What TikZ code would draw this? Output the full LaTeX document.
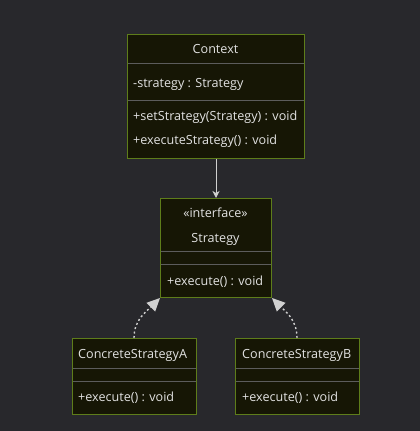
\documentclass[tikz,border=0pt]{standalone}
\usepackage{fontspec}
\setmainfont{Open Sans}
\usetikzlibrary{arrows.meta}
\definecolor{bg}{HTML}{28282C}
\definecolor{boxfill}{HTML}{161605}
\definecolor{boxline}{HTML}{5E7D1A}
\definecolor{divline}{HTML}{5C5C5C}
\definecolor{txt}{HTML}{E2E2E2}
\definecolor{arr}{HTML}{D0D0D0}
\tikzset{
  box/.style={draw=boxline, fill=boxfill, line width=1pt, anchor=north west, inner sep=0pt},
  divider/.style={draw=divline, line width=1pt},
  lbl/.style={text=txt, font=\fontsize{12.6}{14}\selectfont, inner sep=0pt},
  llbl/.style={lbl, anchor=west},
  conn/.style={draw=arr, line width=1pt},
  realize/.style={draw=arr, line width=1.4pt, dash pattern=on 2pt off 2.5pt, -{Triangle[length=13pt,width=12pt,fill=arr]}}
}
\begin{document}
\begin{tikzpicture}[x=1pt,y=1pt]
\fill[bg] (0,0) rectangle (420,431);
\useasboundingbox (0,0) rectangle (420,431);
% Context
\node[box, minimum width=177pt, minimum height=124pt] (ctx) at (127,397) {};
\draw[divider] (127.5,367) -- (303.5,367);
\draw[divider] (127.5,330) -- (303.5,330);
\node[lbl] (ctxT) at (215.5,382) {Context};
\node[llbl] (ctxA) at (133,347) {-strategy : Strategy};
\node[llbl] (ctxM1) at (133,314) {+setStrategy(Strategy) : void};
\node[llbl] (ctxM2) at (133,290) {+executeStrategy() : void};
% Strategy
\node[box, minimum width=111pt, minimum height=99pt] (str) at (160,233) {};
\draw[divider] (160.5,179) -- (270.5,179);
\draw[divider] (160.5,166) -- (270.5,166);
\node[lbl] (strS) at (215.5,218) {«interface»};
\node[lbl] (strT) at (215.5,192) {Strategy};
\node[llbl] (strM) at (167,149) {+execute() : void};
% A
\node[box, minimum width=124pt, minimum height=76pt] (csa) at (72,93) {};
\draw[divider] (72.5,62) -- (195.5,62);
\draw[divider] (72.5,49) -- (195.5,49);
\node[llbl] (csaT) at (78,76) {ConcreteStrategyA};
\node[llbl] (csaM) at (78,33) {+execute() : void};
% B
\node[box, minimum width=124pt, minimum height=76pt] (csb) at (235,93) {};
\draw[divider] (235.5,62) -- (358.5,62);
\draw[divider] (235.5,49) -- (358.5,49);
\node[llbl] (csbT) at (242,76) {ConcreteStrategyB};
\node[llbl] (csbM) at (242,33) {+execute() : void};
% connectors
\draw[conn, -{Stealth[length=7pt,width=7pt,inset=2pt]}] (ctx.south) -- (str.north);
\coordinate (csaTop) at (134,93);
\coordinate (csbTop) at (297,93);
\draw[realize] (csaTop) to[out=90, in=225] (str.south west);
\draw[realize] (csbTop) to[out=90, in=-45] (str.south east);
\end{tikzpicture}
\end{document}
